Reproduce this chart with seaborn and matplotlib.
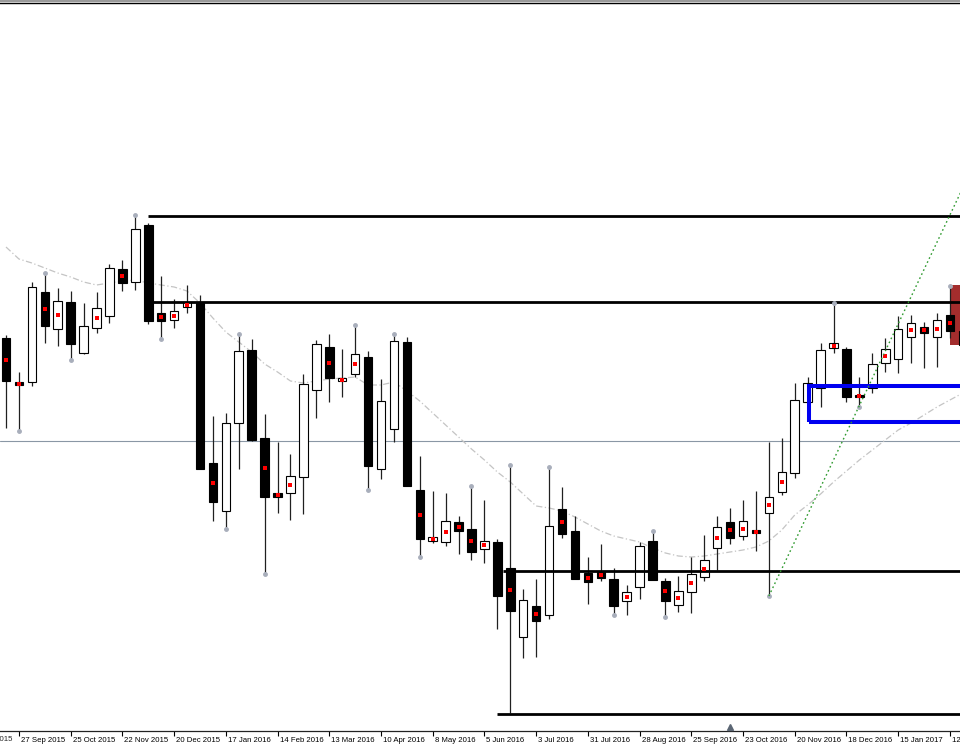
import numpy as np
import pandas as pd
import matplotlib
matplotlib.use("Agg")
import matplotlib.pyplot as plt
import seaborn as sns
from matplotlib.patches import Rectangle
from matplotlib.lines import Line2D
from matplotlib.transforms import blended_transform_factory, ScaledTranslation

# ---- weekly OHLC data (arbitrary price units) ----
OPEN = [412, 368, 368, 458, 421, 448, 397, 422, 434, 481, 468, 525, 437, 430, 443,
        447, 287, 239, 327, 400, 312, 257, 257, 273, 360, 403, 369, 376, 393, 281,
        321, 408, 260, 209, 208, 228, 221, 201, 208, 182, 113, 144, 135, 241, 219,
        177, 178, 171, 149, 163, 209, 169, 145, 158, 173, 202, 228, 214, 220, 237,
        258, 277, 348, 362, 402, 401, 355, 362, 387, 391, 413, 423, 413, 435, 419]
HIGH = [415, 378, 468, 477, 462, 459, 447, 458, 486, 490, 535, 527, 474, 451, 465,
        455, 334, 337, 416, 411, 336, 308, 296, 376, 410, 416, 401, 425, 399, 371,
        416, 413, 294, 259, 257, 234, 264, 250, 211, 285, 161, 171, 283, 263, 234,
        193, 206, 182, 165, 208, 219, 172, 174, 193, 215, 234, 242, 250, 259, 308,
        312, 367, 373, 407, 447, 403, 373, 397, 412, 434, 435, 428, 437, 464, 425]
LOW = [322, 319, 364, 407, 404, 390, 396, 417, 427, 459, 460, 426, 411, 422, 437,
       281, 229, 221, 281, 309, 176, 237, 230, 236, 332, 348, 353, 373, 260, 271,
       308, 264, 193, 207, 204, 196, 190, 187, 121, 37, 92, 93, 131, 212, 171,
       146, 169, 135, 135, 151, 170, 133, 138, 137, 169, 180, 206, 210, 199, 154,
       255, 272, 348, 343, 397, 348, 343, 357, 378, 377, 387, 382, 383, 412, 398]
CLOSE = [369, 365, 463, 424, 449, 406, 424, 442, 482, 467, 521, 429, 429, 439, 448,
         281, 248, 327, 399, 310, 253, 253, 274, 366, 406, 372, 372, 396, 284, 349,
         409, 264, 211, 213, 229, 219, 198, 209, 154, 139, 150, 129, 224, 216, 171,
         168, 172, 144, 158, 204, 170, 149, 159, 176, 190, 223, 212, 229, 217, 253,
         278, 350, 367, 400, 407, 353, 353, 386, 401, 421, 427, 417, 430, 419, 405]
# moving average as drawn on the chart (read per candle)
MA = [503, 491, 487, 482, 477, 473, 468, 465, 467, 469, 470, 467, 465, 463, 459,
      447, 432, 418, 408, 398, 386, 378, 369, 367, 369, 371, 372, 373, 365, 365,
      368, 359, 349, 337, 325, 313, 301, 290, 278, 268, 256, 244, 242, 239, 233,
      226, 219, 214, 211, 208, 202, 197, 194, 193, 194, 196, 198, 200, 203, 209,
      220, 235, 245, 256, 268, 279, 290, 300, 310, 320, 327, 335, 343, 350, 357]
# candles carrying a red mid-body dot
DOT_IDX = [0, 1, 3, 4, 7, 9, 12, 13, 14, 16, 20, 21, 22, 25, 26, 27, 32, 33, 34, 35,
           36, 37, 39, 41, 43, 45, 46, 48, 51, 52, 53, 54, 55, 56, 57, 58, 59, 60,
           64, 66, 68, 70, 71, 72, 73]
# fractal markers
FRACT_UP = [3, 10, 18, 27, 30, 36, 39, 42, 50, 64, 73]
FRACT_DN = [1, 5, 12, 17, 20, 28, 32, 47, 51, 59, 66]

# horizontal levels: price and starting candle
LEVEL_PRICE = [534, 448, 179, 36]
LEVEL_START = [10.96, 11.35, 38.4, 37.97]
BID_PRICE = 309
# blue zone (start candle, low, high), red zone
BLUE_ZONE = (62.1, 328, 364.5)
RED_ZONE = (73.0, 405, 465)
# green dotted trend line anchors (candle, price)
TREND = [(59, 154), (73, 535)]

TICK_POS = [-3, 1, 5, 9, 13, 17, 21, 25, 29, 33, 37, 41, 45, 49, 53, 57, 61, 65, 69, 73]
TICK_LABELS = ["30 Aug 2015", "27 Sep 2015", "25 Oct 2015", "22 Nov 2015", "20 Dec 2015",
               "17 Jan 2016", "14 Feb 2016", "13 Mar 2016", "10 Apr 2016", "8 May 2016",
               "5 Jun 2016", "3 Jul 2016", "31 Jul 2016", "28 Aug 2016", "25 Sep 2016",
               "23 Oct 2016", "20 Nov 2016", "18 Dec 2016", "15 Jan 2017", "12 Feb 2017"]

sns.set_style("white")
plt.rcParams["font.family"] = ["Liberation Sans", "DejaVu Sans"]

df = pd.DataFrame({"open": OPEN, "high": HIGH, "low": LOW, "close": CLOSE, "ma": MA})
df["idx"] = np.arange(len(df))
df["bull"] = df["close"] >= df["open"]

fig = plt.figure(figsize=(9.6, 7.5), dpi=100)
fig.patch.set_facecolor("white")
ax = fig.add_axes([0, 19 / 750, 1, 728 / 750])
ax.set_facecolor("white")

# bid line
ax.axhline(BID_PRICE, color="#8a97a5", lw=0.8, zorder=1)

# moving average
sns.lineplot(data=df, x="idx", y="ma", ax=ax, color="#c4c4c4", lw=0.9,
             linestyle=(0, (5, 2, 1, 2)), zorder=1)

# red zone
ax.add_patch(Rectangle((RED_ZONE[0], RED_ZONE[1]), 5, RED_ZONE[2] - RED_ZONE[1],
                       facecolor="#a32d2d", edgecolor="none", zorder=1.5))

# horizontal levels
for p, s in zip(LEVEL_PRICE, LEVEL_START):
    ax.hlines(p, s, 80, color="black", lw=2.0, zorder=4)

# wicks
ax.vlines(df["idx"], df["low"], df["high"], color="#202020", lw=0.9, zorder=2)
# bodies
bottoms = np.minimum(df["open"], df["close"])
heights = np.abs(df["close"] - df["open"])
colors = np.where(df["bull"], "white", "black")
ax.bar(df["idx"], heights, bottom=bottoms, width=0.66, color=colors,
       edgecolor="black", linewidth=0.8, zorder=3)

# red dots at body middle
dots = df.loc[DOT_IDX]
sns.scatterplot(x=dots["idx"], y=(dots["open"] + dots["close"]) / 2, ax=ax,
                color="red", marker="s", s=5, linewidth=0, zorder=5)

# fractals
fu = df.loc[FRACT_UP]
fd = df.loc[FRACT_DN]
ax.plot(fu["idx"], fu["high"], ls="none", marker="o", ms=2.5, color="#a8aebb", zorder=5)
ax.plot(fd["idx"], fd["low"], ls="none", marker="o", ms=2.5, color="#a8aebb", zorder=5)

# blue zone
ax.add_patch(Rectangle((BLUE_ZONE[0], BLUE_ZONE[1]), 20, BLUE_ZONE[2] - BLUE_ZONE[1],
                       fill=False, edgecolor="#0000f0", lw=2.9, zorder=6))

# green dotted trend line
(x0, y0), (x1, y1) = TREND
slope = (y1 - y0) / (x1 - x0)
ax.plot([x0, 78], [y0, y0 + slope * (78 - x0)], color="#2f9a2f", lw=1.0,
        linestyle=(0, (1.2, 2)), zorder=6)

ax.set_xlim(-0.464, 73.78)
ax.set_ylim(19, 747)
ax.set_xlabel("")
ax.set_ylabel("")
ax.set_yticks([])

inside = [(p, l) for p, l in zip(TICK_POS, TICK_LABELS) if p >= -0.464]
ax.set_xticks([p for p, _ in inside])
ax.set_xticklabels([l for _, l in inside])
ax.tick_params(axis="x", direction="out", length=3.5, width=0.8, pad=0.8,
               labelsize=5.6, colors="black", bottom=True)
off = ScaledTranslation(2 / 100, 0, fig.dpi_scale_trans)
for lab in ax.get_xticklabels():
    lab.set_horizontalalignment("left")
    lab.set_transform(lab.get_transform() + off)
# label partly outside the left edge
tr = blended_transform_factory(ax.transData, ax.transAxes)
for p, l in zip(TICK_POS, TICK_LABELS):
    if p < -0.464:
        ax.text(p, -0.0075, l, transform=tr + off, ha="left", va="top",
                fontsize=5.6, clip_on=False)

# scroll marker
ax.plot([56], [0.006], transform=tr, marker="^", ms=5, color="#5b6674",
        clip_on=False, zorder=7)

for side in ["left", "right"]:
    ax.spines[side].set_visible(False)
ax.spines["bottom"].set_color("#222222")
ax.spines["bottom"].set_linewidth(0.9)
ax.spines["top"].set_color("black")
ax.spines["top"].set_linewidth(1.0)

fig.add_artist(Line2D([0, 1], [0.9985, 0.9985], transform=fig.transFigure,
                      color="#9a9a9a", lw=1.6))

fig.savefig("out.png", dpi=100, facecolor="white")
